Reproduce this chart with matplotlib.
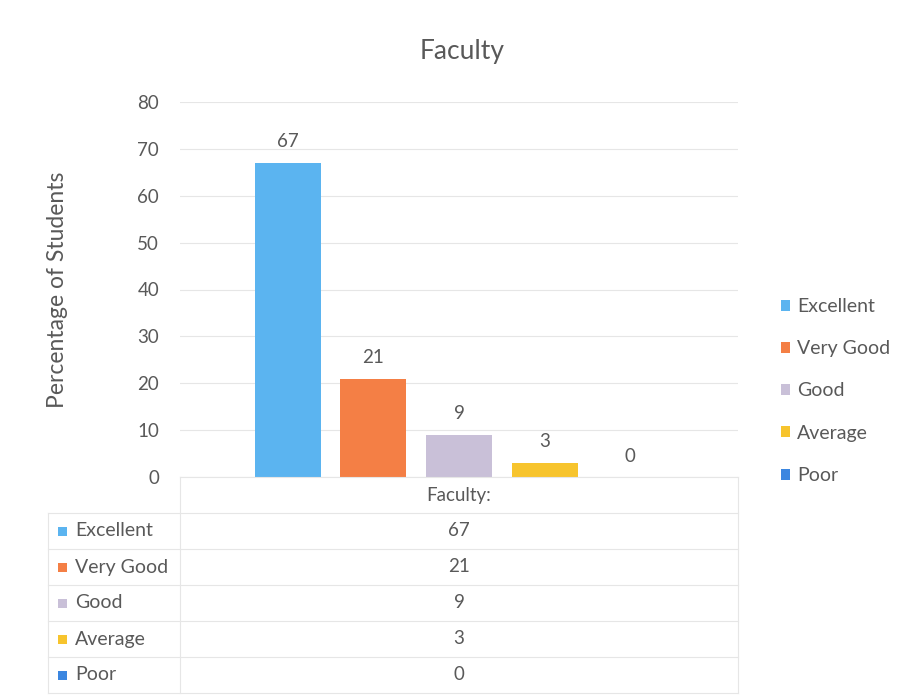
import matplotlib.pyplot as plt
from matplotlib.lines import Line2D
from matplotlib.patches import Rectangle

# survey results for the faculty question
categories = ["Excellent", "Very Good", "Good", "Average", "Poor"]
percentages = [67, 21, 9, 3, 0]
colors = ["#5BB4F0", "#F47F45", "#C9C0D8", "#F7C42D", "#3B86E0"]
y_ticks = [0, 10, 20, 30, 40, 50, 60, 70, 80]
series_name = "Faculty:"

plt.rcParams["font.family"] = ["Lato", "DejaVu Sans"]
text_color = "#595959"
grid_color = "#E6E6E6"

W, H = 908, 699
fig = plt.figure(figsize=(W / 100, H / 100), dpi=100)

# plot area in pixel units, converted to figure fractions
left_px, right_px, top_px, bottom_px = 180, 738, 102, 477
ax = fig.add_axes([left_px / W, 1 - bottom_px / H,
                   (right_px - left_px) / W, (bottom_px - top_px) / H])

xs = list(range(len(categories)))
bars = ax.bar(xs, percentages, width=0.77, color=colors, zorder=3)
for x, v in zip(xs, percentages):
    ax.annotate(str(v), (x, v), xytext=(0, 9), textcoords="offset points",
                ha="center", va="bottom", fontsize=13.5, color=text_color)

ax.set_xlim(-1.255, 5.255)
ax.set_ylim(0, 80)
ax.set_yticks(y_ticks)
ax.set_xticks([])
ax.tick_params(axis="y", length=0, pad=15, labelsize=13.5, labelcolor=text_color)
ax.grid(axis="y", color=grid_color, linewidth=0.8, zorder=0)
for side in ["top", "right", "left", "bottom"]:
    ax.spines[side].set_visible(False)
ax.set_ylabel("Percentage of Students", fontsize=16.5, color=text_color)
ax.yaxis.set_label_coords(-0.2, 0.5)

fig.text(462 / W, 1 - 52 / H, "Faculty", ha="center", va="center",
         fontsize=19, color=text_color)

# legend on the right
leg = ax.legend(bars, categories, loc="center left",
                bbox_to_anchor=(763 / W, 1 - 391 / H), bbox_transform=fig.transFigure,
                frameon=False, fontsize=14, labelcolor=text_color,
                handlelength=0.5, handleheight=0.5, handletextpad=0.35,
                labelspacing=1.3)

# data table under the plot area
def fx(px):
    return px / W

def fy(py):
    return 1 - py / H

row_h = 36
header_top = bottom_px
header_bot = header_top + row_h
tab_left = 48
line_kw = dict(color="#E6E6E6", linewidth=0.8, transform=fig.transFigure)

fig.text(fx((left_px + right_px) / 2), fy((header_top + header_bot) / 2), series_name,
         ha="center", va="center", fontsize=13.5, color=text_color)

rows_y = [header_bot + i * row_h for i in range(len(categories) + 1)]
for i, y in enumerate(rows_y):
    fig.add_artist(Line2D([fx(tab_left), fx(right_px)], [fy(y), fy(y)], **line_kw))
fig.add_artist(Line2D([fx(left_px), fx(right_px)], [fy(header_top), fy(header_top)], **line_kw))
fig.add_artist(Line2D([fx(left_px), fx(left_px)], [fy(header_top), fy(rows_y[-1])], **line_kw))
fig.add_artist(Line2D([fx(right_px), fx(right_px)], [fy(header_top), fy(rows_y[-1])], **line_kw))
fig.add_artist(Line2D([fx(tab_left), fx(tab_left)], [fy(header_bot), fy(rows_y[-1])], **line_kw))

for i, (cat, v, c) in enumerate(zip(categories, percentages, colors)):
    yc = (rows_y[i] + rows_y[i + 1]) / 2
    fig.add_artist(Rectangle((fx(58), fy(yc + 4.5)), 9 / W, 9 / H,
                             transform=fig.transFigure, color=c, lw=0))
    fig.text(fx(75), fy(yc), cat, ha="left", va="center", fontsize=14, color=text_color)
    fig.text(fx((left_px + right_px) / 2), fy(yc), str(v), ha="center", va="center",
             fontsize=13.5, color=text_color)

fig.savefig("out.png", dpi=100)
